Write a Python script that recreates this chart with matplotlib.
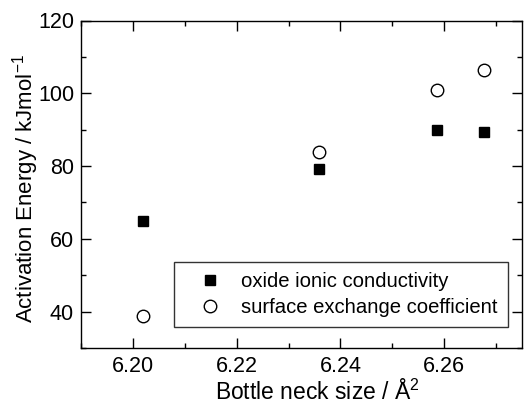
import matplotlib
matplotlib.use("Agg")
import matplotlib.pyplot as plt
from matplotlib.ticker import MultipleLocator

plt.rcParams['font.family'] = ['Liberation Sans', 'DejaVu Sans']
plt.rcParams['mathtext.fontset'] = 'custom'
plt.rcParams['mathtext.rm'] = 'Liberation Sans'

# Bottle neck size (Å^2) and activation energies (kJ/mol)
neck_size = [6.2019, 6.2358, 6.2586, 6.2677]
ea_conductivity = [64.9, 79.1, 89.8, 89.3]
ea_exchange = [38.8, 84.0, 101.0, 106.3]
labels = ["oxide ionic conductivity", "surface exchange coefficient"]
xticks = [6.20, 6.22, 6.24, 6.26]
yticks = [40, 60, 80, 100, 120]

fig = plt.figure(figsize=(5.30, 4.07), dpi=100)
ax = fig.add_axes([81/530, 1 - 348/407, 441/530, 327.5/407])

ax.plot(neck_size, ea_conductivity, linestyle='none', marker='s', ms=7.5,
        mfc='black', mec='black', label=labels[0])
ax.plot(neck_size, ea_exchange, linestyle='none', marker='o', ms=9,
        mfc='white', mec='black', mew=1.0, label=labels[1])

ax.set_xlim(6.19, 6.275)
ax.set_ylim(30, 120)
ax.xaxis.set_minor_locator(MultipleLocator(0.01))
ax.yaxis.set_minor_locator(MultipleLocator(10))
ax.set_xticks(xticks)
ax.set_xticklabels([f"{v:.2f}" for v in xticks])
ax.set_yticks(yticks)

ax.tick_params(which='both', direction='in', top=True, right=True,
               labelsize=15.5, width=1.0)
ax.tick_params(axis='x', pad=6)
ax.tick_params(axis='y', pad=5)
ax.tick_params(which='major', length=7)
ax.tick_params(which='minor', length=3.5)
for s in ax.spines.values():
    s.set_linewidth(1.0)

ax.set_xlabel("Bottle neck size / Å$^{2}$", fontsize=16.5)
ax.xaxis.set_label_coords(0.536, -0.098)
ax.set_ylabel("Activation Energy / kJmol$^{-1}$", fontsize=16)
ax.yaxis.set_label_coords(-0.09, 0.487)

leg = ax.legend(loc='lower left', bbox_to_anchor=(0.211, 0.064, 0.757, 0.189),
                mode='expand', fontsize=14.6, frameon=True, fancybox=False,
                edgecolor='black', borderaxespad=0, handletextpad=0.3,
                labelspacing=0.35, borderpad=0.5, handlelength=2.5)
leg.get_frame().set_linewidth(1.0)

fig.savefig("out.png", dpi=100)
